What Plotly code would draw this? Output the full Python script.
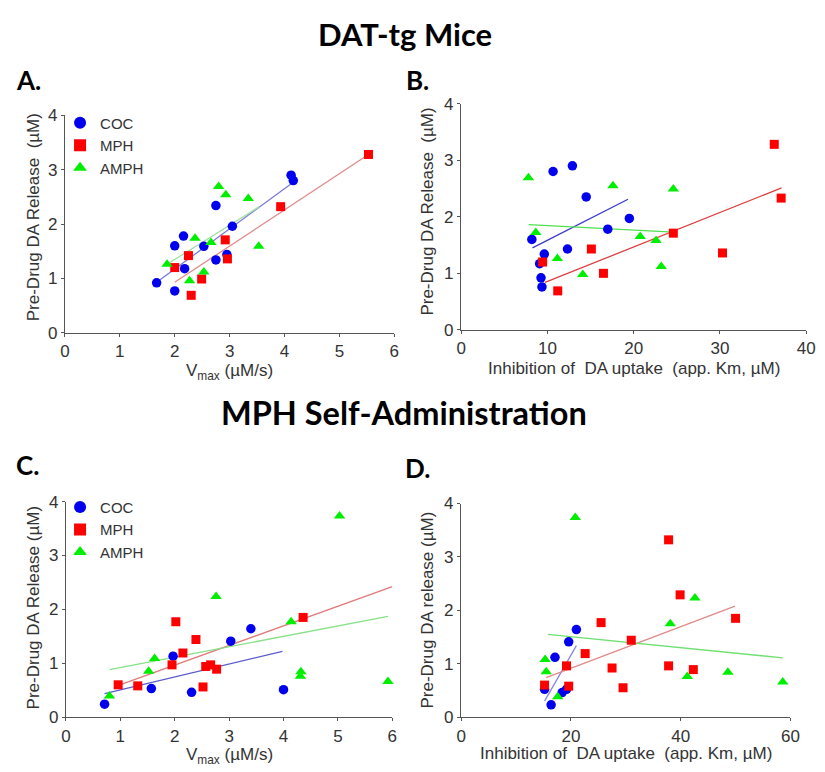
import plotly.graph_objects as go

# ---------------- DATA ----------------
# Panel A (DAT-tg, Vmax)
a_coc_x = [1.67, 2.0, 2.0, 2.16, 2.18, 2.53, 2.75, 2.75, 2.95, 3.05, 4.12, 4.16]
a_coc_y = [0.92, 0.77, 1.60, 1.78, 1.18, 1.59, 2.34, 1.34, 1.44, 1.96, 2.90, 2.80]
a_mph_x = [2.0, 2.25, 2.30, 2.49, 2.92, 2.96, 3.93, 5.53]
a_mph_y = [1.20, 1.42, 0.69, 0.99, 1.71, 1.36, 2.32, 3.28]
a_amph_x = [1.86, 2.27, 2.37, 2.53, 2.66, 2.80, 2.93, 3.34, 3.53]
a_amph_y = [1.26, 0.96, 1.74, 1.12, 1.66, 2.69, 2.54, 2.47, 1.59]
a_fit_coc_x, a_fit_coc_y = [1.67, 4.16], [0.93, 2.77]
a_fit_mph_x, a_fit_mph_y = [2.0, 5.53], [0.93, 3.28]
a_fit_amph_x, a_fit_amph_y = [1.86, 3.54], [1.26, 2.32]

# Panel B (DAT-tg, Km)
b_coc_x = [8.2, 9.1, 9.26, 9.37, 9.64, 10.66, 12.9, 12.33, 14.5, 17.0, 19.5]
b_coc_y = [1.60, 1.17, 0.92, 0.76, 1.34, 2.80, 2.90, 1.43, 2.35, 1.78, 1.97]
b_mph_x = [9.45, 11.2, 15.1, 16.5, 24.6, 30.3, 36.3, 37.1]
b_mph_y = [1.20, 0.69, 1.43, 1.00, 1.71, 1.36, 3.28, 2.33]
b_amph_x = [7.8, 8.65, 11.16, 14.1, 17.6, 20.76, 22.6, 23.2, 24.6]
b_amph_y = [2.69, 1.72, 1.26, 0.98, 2.55, 1.65, 1.58, 1.12, 2.49]
b_fit_coc_x, b_fit_coc_y = [8.27, 19.35], [1.45, 2.31]
b_fit_mph_x, b_fit_mph_y = [9.72, 37.15], [0.84, 2.51]
b_fit_amph_x, b_fit_amph_y = [7.82, 24.6], [1.86, 1.73]

# Panel C (MPH SA, Vmax)
c_coc_x = [0.71, 1.57, 1.97, 2.31, 3.03, 3.40, 4.0]
c_coc_y = [0.24, 0.53, 1.13, 0.46, 1.41, 1.64, 0.51]
c_mph_x = [0.96, 1.32, 1.95, 2.02, 2.15, 2.39, 2.52, 2.57, 2.66, 2.77, 4.36]
c_mph_y = [0.60, 0.58, 0.97, 1.77, 1.19, 1.44, 0.56, 0.94, 0.97, 0.89, 1.85]
c_amph_x = [0.80, 1.52, 1.63, 2.76, 4.14, 4.31, 4.32, 5.03, 5.92]
c_amph_y = [0.39, 0.85, 1.09, 2.24, 1.77, 0.76, 0.84, 3.73, 0.66]
c_fit_coc_x, c_fit_coc_y = [0.71, 3.98], [0.435, 1.22]
c_fit_mph_x, c_fit_mph_y = [0.99, 6.0], [0.60, 2.42]
c_fit_amph_x, c_fit_amph_y = [0.80, 5.92], [0.88, 1.87]

# Panel D (MPH SA, Km)
d_coc_x = [15.2, 16.4, 17.1, 18.4, 19.2, 19.6, 21.0]
d_coc_y = [0.52, 0.23, 1.12, 0.46, 0.52, 1.41, 1.64]
d_mph_x = [15.2, 19.2, 19.6, 22.6, 25.5, 27.5, 29.5, 31.0, 37.8, 37.8, 39.9, 42.3, 50.0]
d_mph_y = [0.60, 0.96, 0.58, 1.19, 1.77, 0.92, 0.55, 1.44, 3.32, 0.96, 2.29, 0.89, 1.85]
d_amph_x = [15.3, 15.5, 17.6, 20.8, 38.1, 41.2, 42.6, 48.6, 58.6]
d_amph_y = [1.08, 0.85, 0.38, 3.74, 1.75, 0.76, 2.23, 0.84, 0.66]
d_fit_coc_x, d_fit_coc_y = [15.2, 21.0], [0.30, 1.34]
d_fit_mph_x, d_fit_mph_y = [15.5, 49.9], [0.74, 2.08]
d_fit_amph_x, d_fit_amph_y = [15.8, 58.6], [1.55, 1.11]

series_names = ["COC", "MPH", "AMPH"]
x_ranges = {"A": [0, 6], "B": [0, 40], "C": [0, 6], "D": [0, 60]}
x_dticks = {"A": 1, "B": 10, "C": 1, "D": 20}

# ---------------- STYLE ----------------
W, H = 825, 772
FONT = "Liberation Sans, Arial, sans-serif"
TXT = "#333333"
marker_style = {
    "COC": dict(symbol="circle", size=9.5, color="#0000ee"),
    "MPH": dict(symbol="square", size=9, color="#ff0000"),
    "AMPH": dict(symbol="triangle-up", size=10, color="#00ee00"),
}
fit_colors = {
    "A": {"COC": "#7a7ad8", "MPH": "#e08a8a", "AMPH": "#a0e0a0"},
    "B": {"COC": "#3a3ad0", "MPH": "#e04040", "AMPH": "#50e050"},
    "C": {"COC": "#5a5ad0", "MPH": "#e07a7a", "AMPH": "#88e088"},
    "D": {"COC": "#8888e0", "MPH": "#e08a8a", "AMPH": "#70e070"},
}

def px_x(p):
    return p / W

def px_y(p):
    return 1 - p / H

boxes = {
    "A": (61, 396, 109, 332),
    "B": (464, 815, 97, 329),
    "C": (62, 394, 505, 726),
    "D": (464, 799, 507, 726),
}
axis_ids = {"A": ("x", "y"), "B": ("x2", "y2"), "C": ("x3", "y3"), "D": ("x4", "y4")}

data = {
    "A": [(a_coc_x, a_coc_y), (a_mph_x, a_mph_y), (a_amph_x, a_amph_y)],
    "B": [(b_coc_x, b_coc_y), (b_mph_x, b_mph_y), (b_amph_x, b_amph_y)],
    "C": [(c_coc_x, c_coc_y), (c_mph_x, c_mph_y), (c_amph_x, c_amph_y)],
    "D": [(d_coc_x, d_coc_y), (d_mph_x, d_mph_y), (d_amph_x, d_amph_y)],
}
fits = {
    "A": [(a_fit_coc_x, a_fit_coc_y), (a_fit_mph_x, a_fit_mph_y), (a_fit_amph_x, a_fit_amph_y)],
    "B": [(b_fit_coc_x, b_fit_coc_y), (b_fit_mph_x, b_fit_mph_y), (b_fit_amph_x, b_fit_amph_y)],
    "C": [(c_fit_coc_x, c_fit_coc_y), (c_fit_mph_x, c_fit_mph_y), (c_fit_amph_x, c_fit_amph_y)],
    "D": [(d_fit_coc_x, d_fit_coc_y), (d_fit_mph_x, d_fit_mph_y), (d_fit_amph_x, d_fit_amph_y)],
}
legend_of = {"A": "legend", "C": "legend2"}

fig = go.Figure()
for panel in ["A", "B", "C", "D"]:
    xa, ya = axis_ids[panel]
    for name, (fx, fy) in zip(series_names, fits[panel]):
        fig.add_trace(go.Scatter(x=fx, y=fy, mode="lines", xaxis=xa, yaxis=ya,
                                 line=dict(color=fit_colors[panel][name], width=1.3),
                                 showlegend=False, hoverinfo="skip"))
    for name, (sx, sy) in zip(series_names, data[panel]):
        if panel in legend_of:
            kw = dict(showlegend=True, legend=legend_of[panel])
        else:
            kw = dict(showlegend=False)
        fig.add_trace(go.Scatter(x=sx, y=sy, mode="markers", name=name, xaxis=xa, yaxis=ya,
                                 marker=dict(**marker_style[name], line=dict(width=0)),
                                 cliponaxis=False, **kw))

axis_common = dict(showline=True, linecolor="#555555", linewidth=1.3, ticks="outside",
                   ticklen=3, tickwidth=1.3, tickcolor="#555555", showgrid=False,
                   zeroline=False, tickfont=dict(family=FONT, size=17, color=TXT),
                   fixedrange=True)

layout = dict(width=W, height=H, margin=dict(l=0, r=0, t=0, b=0),
              paper_bgcolor="white", plot_bgcolor="white",
              font=dict(family=FONT, color=TXT))
for i, panel in enumerate(["A", "B", "C", "D"]):
    l, r, t, b = boxes[panel]
    suffix = "" if i == 0 else str(i + 1)
    xa_id, ya_id = axis_ids[panel]
    layout["xaxis" + suffix] = dict(axis_common, domain=[px_x(l), px_x(r)],
                                    range=x_ranges[panel], dtick=x_dticks[panel],
                                    anchor=ya_id)
    layout["yaxis" + suffix] = dict(axis_common, domain=[px_y(b), px_y(t)],
                                    range=[0, 4], dtick=1, anchor=xa_id)

legend_common = dict(font=dict(family=FONT, size=15, color=TXT), bgcolor="rgba(0,0,0,0)",
                     itemsizing="constant", tracegroupgap=0, itemwidth=30,
                     xanchor="left", yanchor="top", traceorder="normal")
layout["legend"] = dict(legend_common, x=px_x(56), y=px_y(100))
layout["legend2"] = dict(legend_common, x=px_x(56), y=px_y(494))

fig.update_layout(**layout)

annotations = []
def ann(text, xp, yp, size, bold=False, angle=0, family=FONT, color=TXT):
    annotations.append(dict(text=("<b>%s</b>" % text) if bold else text,
                            x=px_x(xp), y=px_y(yp), xref="paper", yref="paper",
                            showarrow=False, textangle=angle,
                            font=dict(family=family, size=size, color=color),
                            xanchor="center", yanchor="middle"))

TITLE_FONT = "Lato, Open Sans, sans-serif"
ann("DAT-tg Mice", 407, 26, 31, bold=True, family=TITLE_FONT, color="black")
ann("MPH Self-Administration", 406, 414, 32.5, bold=True, family=TITLE_FONT, color="black")
ann("A.", 24, 73, 26, bold=True, family=TITLE_FONT, color="black")
ann("B.", 420, 73, 26, bold=True, family=TITLE_FONT, color="black")
ann("C.", 23, 468, 26, bold=True, family=TITLE_FONT, color="black")
ann("D.", 420, 471, 26, bold=True, family=TITLE_FONT, color="black")

ann("Pre-Drug DA Release  (µM)", 29, 214, 17, angle=-90)
ann("Pre-Drug DA Release  (µM)", 430, 208, 17, angle=-90)
ann("Pre-Drug DA Release (µM)", 29, 614, 17, angle=-90)
ann("Pre-Drug DA release (µM)", 430, 616, 17, angle=-90)
ann("V<sub>max</sub> (µM/s)", 228, 372, 17)
ann("Inhibition of  DA uptake  (app. Km, µM)", 640, 369, 17)
ann("V<sub>max</sub> (µM/s)", 228, 766, 17)
ann("Inhibition of  DA uptake  (app. Km, µM)", 632, 763, 17)

fig.update_layout(annotations=annotations)

fig.write_html("out.html", config={"displayModeBar": False},
               post_script="document.body.style.margin='0';document.body.style.overflow='hidden';")
